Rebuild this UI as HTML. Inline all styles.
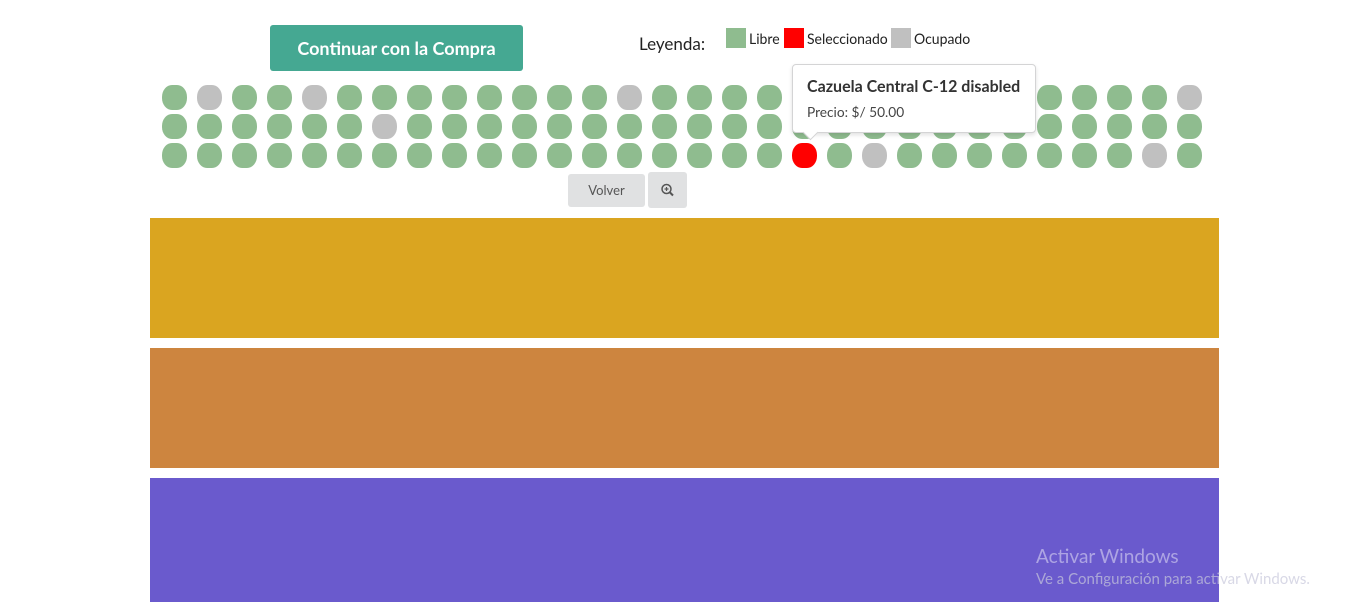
<!DOCTYPE html>
<html><head><meta charset="utf-8">
<style>
body{margin:0;width:1346px;height:602px;overflow:hidden;background:#fff;font-family:"Lato","Liberation Sans",sans-serif;position:relative}
.abs{position:absolute}
.btn-main{left:270px;top:25px;width:253px;height:46px;background:#45a892;border-radius:3px;color:#fff;font-weight:bold;font-size:18px;line-height:46px;text-align:center}
.seat{position:absolute;width:25px;height:25px;border-radius:10px/12px}
.band{position:absolute;left:150px;width:1069px}
.sw{position:absolute;top:28px;width:20px;height:20px}
.lt{position:absolute;top:30px;font-size:14px;color:#222}
</style></head><body>
<div class="abs btn-main">Continuar con la Compra</div>
<div class="abs" style="left:639px;top:33px;font-size:17px;color:#222">Leyenda:</div>
<div class="sw" style="left:726px;background:#8fbc8f"></div>
<div class="lt" style="left:749px">Libre</div>
<div class="sw" style="left:784px;background:#ff0000"></div>
<div class="lt" style="left:807px">Seleccionado</div>
<div class="sw" style="left:891px;background:#c0c0c0"></div>
<div class="lt" style="left:914px">Ocupado</div>
<div id="seats"></div>
<div class="abs" style="left:568px;top:174px;width:77px;height:33px;background:#e0e1e2;border-radius:3px;font-size:13px;color:#555;text-align:center;line-height:33px">Volver</div>
<div class="abs" style="left:648px;top:172px;width:39px;height:36px;background:#e0e1e2;border-radius:3px">
<svg width="39" height="36"><circle cx="18.5" cy="17" r="4.5" fill="none" stroke="#555" stroke-width="1.5"/><line x1="21.5" y1="20" x2="25" y2="23.5" stroke="#555" stroke-width="2"/><line x1="16.5" y1="17" x2="20.5" y2="17" stroke="#555" stroke-width="1.2"/><line x1="18.5" y1="15" x2="18.5" y2="19" stroke="#555" stroke-width="1.2"/></svg></div>
<div class="abs" style="left:792px;top:64px;width:242px;height:67px;background:#fff;border:1px solid #d4d4d5;border-radius:4px;box-shadow:0 2px 4px rgba(0,0,0,.12);z-index:5">
<div style="position:absolute;left:14px;top:12px;font-size:16px;font-weight:bold;color:#333">Cazuela Central C-12 disabled</div>
<div style="position:absolute;left:14px;top:38px;font-size:13.7px;color:#444">Precio: $/ 50.00</div>
<div style="position:absolute;left:12px;top:62px;width:10px;height:10px;background:#fff;border-right:1px solid #d4d4d5;border-bottom:1px solid #d4d4d5;transform:rotate(45deg)"></div>
</div>
<div class="band" style="top:218px;height:120px;background:#daa520"></div>
<div class="band" style="top:348px;height:120px;background:#cd853f"></div>
<div class="band" style="top:478px;height:124px;background:#6a5acd"></div>
<div class="abs" style="left:1036px;top:545px;font-size:19px;color:rgba(255,255,255,.45)">Activar Windows</div>
<div class="abs" style="left:1036px;top:570px;font-size:15px;color:rgba(200,200,220,.7)">Ve a Configuración para activar Windows.</div>
<script>
// seat status per row: L=libre, O=ocupado, S=seleccionado
const rowA = "LOLLOLLLLLLLLOLLLLLLLLLLLLLLLO";
const rowB = "LLLLLLOLLLLLLLLLLLLLLLLLLLLLLL";
const rowC = "LLLLLLLLLLLLLLLLLLSLOLLLLLLLOL";
const rows = [rowA, rowB, rowC];
const colors = {L:"#8fbc8f", O:"#c0c0c0", S:"#ff0000"};
const c = document.getElementById('seats');
rows.forEach((r, ri) => {
  [...r].forEach((s, ci) => {
    const d = document.createElement('div');
    d.className = 'seat';
    d.style.left = (162 + ci * 35) + 'px';
    d.style.top = (85 + ri * 29) + 'px';
    d.style.background = colors[s];
    
    
    c.appendChild(d);
  });
});
</script>
</body></html>
